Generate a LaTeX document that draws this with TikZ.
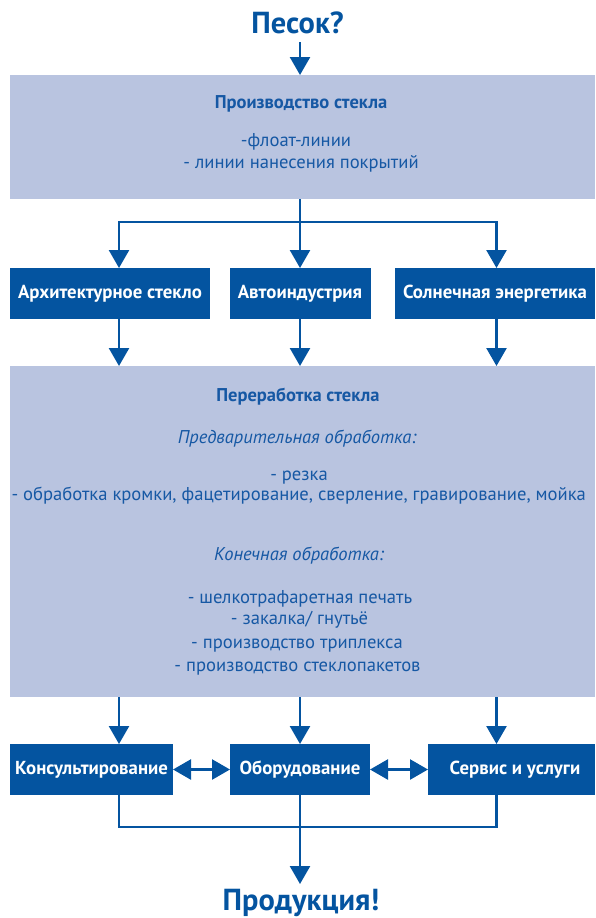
\documentclass[tikz,border=0pt]{standalone}
\usepackage{fontspec}
\setmainfont{PT Sans}
\usetikzlibrary{arrows.meta}
\definecolor{dblue}{RGB}{4,84,160}
\definecolor{lblue}{RGB}{185,196,224}
\definecolor{tblue}{RGB}{22,88,164}
\begin{document}
\begin{tikzpicture}[x=1pt,y=-1pt,
  lightbox/.style={fill=lblue, draw=none, inner sep=0pt, outer sep=0pt, anchor=north west},
  darkbox/.style={fill=dblue, draw=none, inner sep=0pt, outer sep=0pt, anchor=north west,
    text=white, font=\fontsize{18.8}{22}\selectfont\bfseries},
  conn/.style={draw=dblue, line width=2.5pt},
  arr/.style={conn, -{Triangle[length=18pt,width=20pt]}},
  darr/.style={conn, {Triangle[length=18pt,width=20pt]}-{Triangle[length=18pt,width=20pt]}},
  head/.style={anchor=base, inner sep=0pt, text=tblue, font=\fontsize{18.5}{22}\selectfont\bfseries},
  itemtxt/.style={anchor=base, inner sep=0pt, text=tblue, font=\fontsize{18.6}{22}\selectfont},
  subtxt/.style={anchor=base, inner sep=0pt, text=tblue, font=\fontsize{18.5}{22}\selectfont\itshape},
  bigtxt/.style={anchor=base, inner sep=0pt, text=dblue, font=\fontsize{30.4}{34}\selectfont\bfseries}
]
\useasboundingbox (0,0) rectangle (595,918);

% columns
\coordinate (colL) at (119,0);
\coordinate (colM) at (300,0);
\coordinate (colR) at (496.5,0);

% title
\node[bigtxt] (t1) at (297.5,33.3) {Песок?};
\coordinate (s0) at (300,42);

% box A
\node[lightbox, minimum width=585pt, minimum height=124pt] (A) at (10,75) {};
\node[head] (a1) at (301,108) {Производство стекла};
\node[itemtxt] (a2) at (296,146) {-флоат-линии};
\node[itemtxt] (a3) at (301,168.5) {- линии нанесения покрытий};

% row 1
\node[darkbox, minimum width=200pt, minimum height=51pt] (B1) at (10,268) {Архитектурное стекло};
\node[darkbox, minimum width=141pt, minimum height=51pt] (B2) at (229.5,268) {Автоиндустрия};
\node[darkbox, minimum width=200pt, minimum height=51pt] (B3) at (395,268) {Солнечная энергетика};

% box C
\node[lightbox, minimum width=585pt, minimum height=331pt] (C) at (10,366) {};
\node[head] (c1) at (298,401.5) {Переработка стекла};
\node[subtxt] (c2) at (297,443) {Предварительная обработка:};
\node[itemtxt] (c3) at (299,480) {- резка};
\node[itemtxt] (c4) at (298.7,500) {- обработка кромки, фацетирование, сверление, гравирование, мойка};
\node[subtxt] (c5) at (299,560) {Конечная обработка:};
\node[itemtxt] (c6) at (300,603) {- шелкотрафаретная печать};
\node[itemtxt] (c7) at (299.5,624) {- закалка/ гнутьё};
\node[itemtxt] (c8) at (297,648) {- производство триплекса};
\node[itemtxt] (c9) at (297.5,671) {- производство стеклопакетов};

% row 2
\node[darkbox, minimum width=163pt, minimum height=51pt] (D1) at (10,744) {Консультирование};
\node[darkbox, minimum width=140pt, minimum height=51pt] (D2) at (230,744) {Оборудование};
\node[darkbox, minimum width=167pt, minimum height=51pt] (D3) at (428,744) {\hspace{7pt}Сервис и услуги};

% result
\node[bigtxt] (p1) at (301,910) {Продукция!};
\coordinate (m) at (300,827);
\coordinate (pt) at (300,884);
\coordinate (j1) at (300,222);

% connectors
\draw[arr] (s0) -- (s0 |- A.north);
\draw[conn] (A.south -| colM) -- (j1);
\draw[arr] (j1) -| (B1.north -| colL);
\draw[arr] (j1) -- (B2.north -| colM);
\draw[arr] (j1) -| (B3.north -| colR);

\draw[arr] (B1.south -| colL) -- (C.north -| colL);
\draw[arr] (B2.south -| colM) -- (C.north -| colM);
\draw[arr] (B3.south -| colR) -- (C.north -| colR);

\draw[arr] (C.south -| colL) -- (D1.north -| colL);
\draw[arr] (C.south -| colM) -- (D2.north -| colM);
\draw[arr] (C.south -| colR) -- (D3.north -| colR);

\draw[darr] (D1.east) -- (D2.west);
\draw[darr] (D2.east) -- (D3.west);

\draw[conn] (D1.south -| colL) -- (colL |- m) -- (colR |- m) -- (D3.south -| colR);
\draw[arr] (D2.south -| colM) -- (pt);
\end{tikzpicture}
\end{document}
